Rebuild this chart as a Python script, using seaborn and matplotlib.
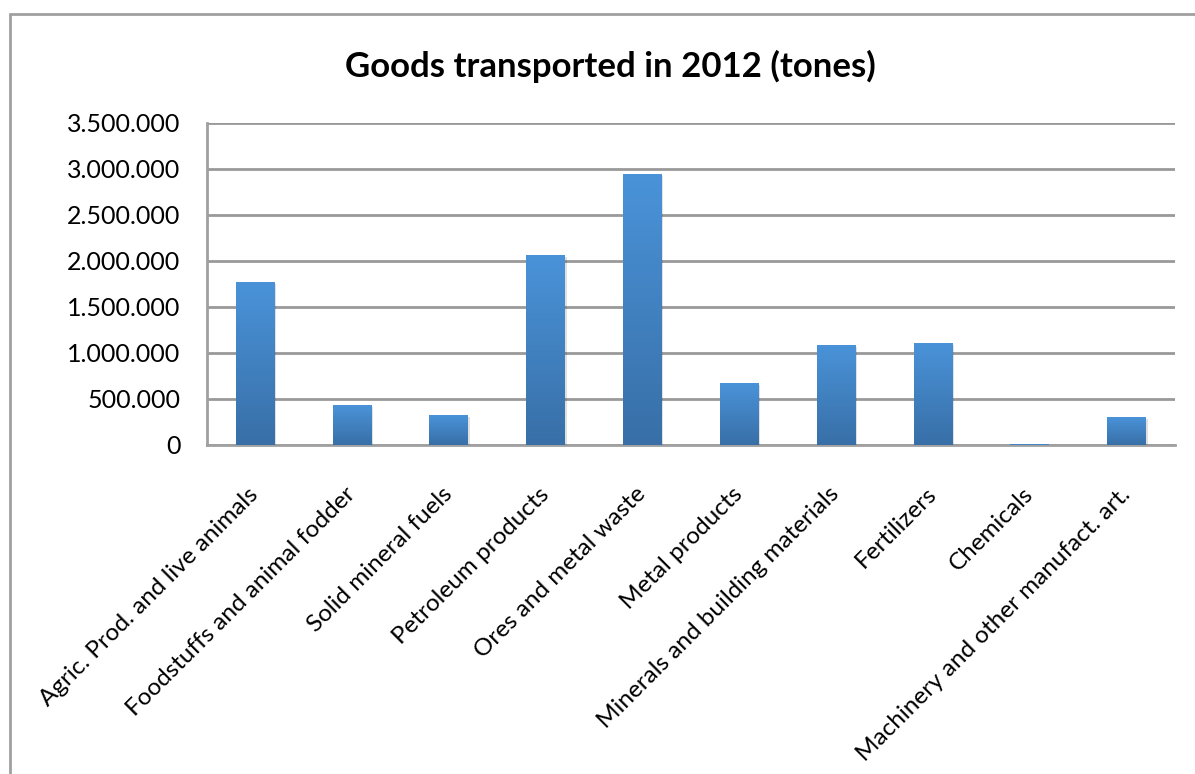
import numpy as np
import pandas as pd
import matplotlib
matplotlib.use("Agg")
import matplotlib.pyplot as plt
import matplotlib.patheffects as pe
from matplotlib.lines import Line2D
from matplotlib.ticker import FuncFormatter
import seaborn as sns

# Goods transported in 2012, tonnes per category
categories = [
    "Agric. Prod. and live animals",
    "Foodstuffs and animal fodder",
    "Solid mineral fuels",
    "Petroleum products",
    "Ores and metal waste",
    "Metal products",
    "Minerals and building materials",
    "Fertilizers",
    "Chemicals",
    "Machinery and other manufact. art.",
]
tonnes = [1767000, 431000, 322000, 2060000, 2940000, 673000, 1086000, 1108000, 10000, 304000]
y_ticks = [0, 500000, 1000000, 1500000, 2000000, 2500000, 3000000, 3500000]

df = pd.DataFrame({"category": categories, "tonnes": tonnes})

sns.set_theme(style="white")
plt.rcParams["font.family"] = ["Lato", "DejaVu Sans"]

W, H = 1195, 774
fig = plt.figure(figsize=(W / 100, H / 100), dpi=100)
ax = fig.add_axes([206.7 / W, 1 - 445 / H, (1175 - 206.7) / W, (445 - 122.7) / H])

sns.barplot(data=df, x="category", y="tonnes", color="#4283c8", width=0.4,
            saturation=1, ax=ax, zorder=3)

# vertical gradient and soft shadow on each bar
grad = np.linspace(0, 1, 256).reshape(-1, 1)
top_c = np.array([0x4a, 0x93, 0xd9]) / 255
bot_c = np.array([0x38, 0x6f, 0xa7]) / 255
img = bot_c[None, None, :] * (1 - grad[..., None]) + top_c[None, None, :] * grad[..., None]
for p in ax.patches:
    x0, y0 = p.get_x(), p.get_y()
    w, h = p.get_width(), p.get_height()
    p.set_edgecolor("none")
    p.set_path_effects([pe.SimplePatchShadow(offset=(1.2, -1.5), shadow_rgbFace="#000000", alpha=0.12),
                        pe.Normal()])
    im = ax.imshow(img, extent=[x0, x0 + w, y0, y0 + h], origin="lower",
                   aspect="auto", zorder=4, interpolation="bilinear")
    im.set_clip_path(p)

ax.set_xlim(-0.5, len(categories) - 0.5)
ax.set_ylim(0, 3500000)
ax.set_yticks(y_ticks)
ax.yaxis.set_major_formatter(FuncFormatter(lambda v, _: f"{int(v):,}".replace(",", ".")))
ax.grid(axis="y", color="#999999", linewidth=2, zorder=0)
ax.set_axisbelow(True)
for s in ["top", "right"]:
    ax.spines[s].set_visible(False)
for s in ["left", "bottom"]:
    ax.spines[s].set_color("#a0a0a0")
    ax.spines[s].set_linewidth(2)
ax.tick_params(axis="both", length=0)
ax.tick_params(axis="y", labelsize=18, pad=19, labelcolor="black")
ax.set_xlabel("")
ax.set_ylabel("")
ax.set_xticks(range(len(categories)))
ax.set_xticklabels(categories, rotation=45, ha="right", va="center",
                   rotation_mode="anchor", fontsize=17.5, color="black")
ax.tick_params(axis="x", pad=33)

fig.text(610 / W, 1 - 66 / H, "Goods transported in 2012 (tones)", ha="center", va="center",
         fontsize=25, fontweight="bold", color="black")

# chart area border
bx, by = 10 / W, 1 - 14 / H
fig.add_artist(Line2D([bx, bx], [0, by], color="#a0a0a0", linewidth=2, transform=fig.transFigure))
fig.add_artist(Line2D([bx, 1], [by, by], color="#a0a0a0", linewidth=2, transform=fig.transFigure))

fig.savefig("out.png", dpi=100, facecolor="white")
